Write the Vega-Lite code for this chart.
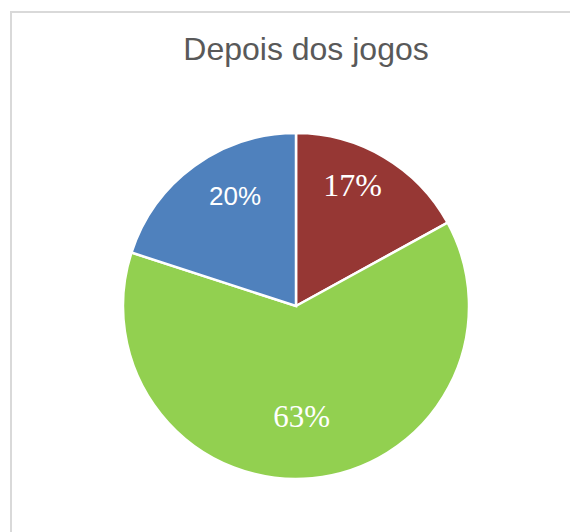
{
  "$schema": "https://vega.github.io/schema/vega-lite/v6.json",
  "width": 570,
  "height": 588,
  "autosize": {"type": "none"},
  "padding": {"left": 11, "top": 12, "right": 0, "bottom": 0},
  "background": "white",
  "view": {"stroke": "#d9d9d9", "strokeWidth": 2, "fill": "white"},
  "title": {
    "text": "Depois dos jogos",
    "font": "Liberation Sans",
    "fontSize": 32,
    "fontWeight": "normal",
    "color": "#595959",
    "anchor": "middle",
    "frame": "group",
    "baseline": "alphabetic",
    "offset": -80,
    "dx": 10
  },
  "data": {
    "values": [
      {"categoria": "Categoria 1", "valor": 17, "rotulo": "17%", "ordem": 1},
      {"categoria": "Categoria 2", "valor": 63, "rotulo": "63%", "ordem": 2},
      {"categoria": "Categoria 3", "valor": 20, "rotulo": "20%", "ordem": 3}
    ]
  },
  "encoding": {
    "theta": {"field": "valor", "type": "quantitative", "stack": true},
    "order": {"field": "ordem", "type": "quantitative"}
  },
  "layer": [
    {
      "mark": {"type": "arc", "radius": 173, "stroke": "white", "strokeWidth": 2.5},
      "encoding": {
        "color": {
          "field": "categoria",
          "type": "nominal",
          "scale": {
            "domain": ["Categoria 1", "Categoria 2", "Categoria 3"],
            "range": ["#963734", "#92D050", "#4F81BD"]
          },
          "legend": null
        }
      }
    },
    {
      "mark": {"type": "text", "radius": 133, "dx": -11, "dy": -6, "font": "Liberation Serif", "fontSize": 32, "color": "white", "align": "center", "baseline": "middle"},
      "encoding": {
        "text": {"condition": {"test": "datum.ordem === 1", "field": "rotulo"}, "value": ""}
      }
    },
    {
      "mark": {"type": "text", "radius": 112, "dx": -5, "dy": 0, "font": "Liberation Serif", "fontSize": 31, "color": "white", "align": "center", "baseline": "middle"},
      "encoding": {
        "text": {"condition": {"test": "datum.ordem === 2", "field": "rotulo"}, "value": ""}
      }
    },
    {
      "mark": {"type": "text", "radius": 124, "dx": 12, "dy": -9, "font": "Liberation Sans", "fontSize": 26, "color": "white", "align": "center", "baseline": "middle"},
      "encoding": {
        "text": {"condition": {"test": "datum.ordem === 3", "field": "rotulo"}, "value": ""}
      }
    }
  ]
}
